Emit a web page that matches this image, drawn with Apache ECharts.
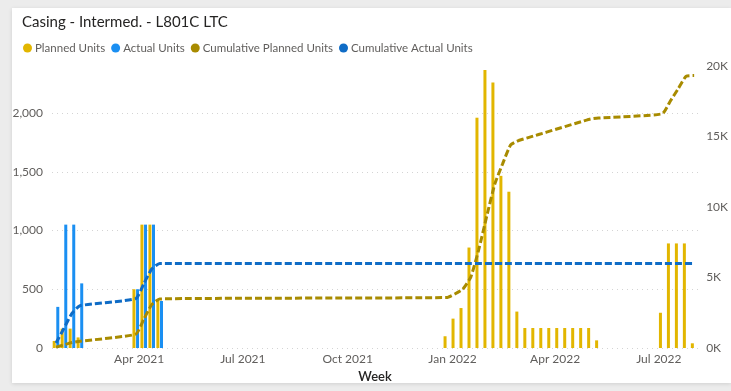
<!DOCTYPE html>
<html>
<head>
<meta charset="utf-8">
<script src="https://cdn.jsdelivr.net/npm/echarts@6/dist/echarts.min.js"></script>
<style>
  html, body { margin: 0; padding: 0; width: 731px; height: 391px; overflow: hidden; background: #ECECEC; }
  #card { position: absolute; left: 12px; top: 8px; width: 719px; height: 375px; background: #FFFFFF; box-shadow: 0 1px 4px rgba(0,0,0,0.12); }
  #chart { position: absolute; left: 0; top: 0; width: 731px; height: 391px; }
</style>
</head>
<body>
<div id="card"></div>
<div id="chart"></div>
<script>
const titleText = 'Casing - Intermed. - L801C LTC';
const weeks = ['2021-01-18','2021-01-25','2021-02-01','2021-02-08','2021-03-29','2021-04-05','2021-04-12','2021-04-19',
  '2021-12-27','2022-01-03','2022-01-10','2022-01-17','2022-01-24','2022-01-31','2022-02-07','2022-02-14','2022-02-21','2022-02-28',
  '2022-03-07','2022-03-14','2022-03-21','2022-03-28','2022-04-04','2022-04-11','2022-04-18','2022-04-25','2022-05-02','2022-05-09',
  '2022-07-04','2022-07-11','2022-07-18','2022-07-25','2022-08-01'];
const plannedUnits = [60,165,165,90, 500,1050,1050,400,
  100,250,340,855,1960,2365,2260,1465,1330,310,
  170,170,170,170,170,170,170,170,170,65,
  300,890,890,890,40];
const actualUnits = [350,1050,1050,550, 500,1050,1050,400,
  null,null,null,null,null,null,null,null,null,null,
  null,null,null,null,null,null,null,null,null,null,
  null,null,null,null,null];
const cumulativePlanned = [60,225,390,480, 980,2030,3080,3480,
  3580,3830,4170,5025,6985,9350,11610,13075,14405,14715,
  14885,15055,15225,15395,15565,15735,15905,16075,16245,16310,
  16610,17500,18390,19280,19320];
const cumulativeActual = [350,1400,2450,3000, 3500,4550,5600,6000,
  6000,6000,6000,6000,6000,6000,6000,6000,6000,6000,
  6000,6000,6000,6000,6000,6000,6000,6000,6000,6000,
  6000,6000,6000,6000,6000];
const xTickDates = ['2021-04-01','2021-07-01','2021-10-01','2022-01-01','2022-04-01','2022-07-01'];
const xTickLabels = ['Apr 2021','Jul 2021','Oct 2021','Jan 2022','Apr 2022','Jul 2022'];
const seriesNames = ['Planned Units','Actual Units','Cumulative Planned Units','Cumulative Actual Units'];

const FONT = 'Lato, "Open Sans", sans-serif';
const pd = s => Date.parse(s + 'T00:00:00Z');
const tickTs = xTickDates.map(pd);
const pair = arr => weeks.map((w, i) => [pd(w), arr[i]]);
const xMin = pd('2021-01-14') + 12 * 3600e3;
const xMax = pd('2022-08-04') + 12 * 3600e3;

const chart = echarts.init(document.getElementById('chart'), null, { renderer: 'canvas' });
chart.setOption({
  animation: false,
  textStyle: { fontFamily: FONT },
  title: {
    text: titleText, left: 17, top: 10,
    textStyle: { fontFamily: FONT, fontSize: 15, fontWeight: 'normal', color: '#252423' }
  },
  legend: {
    data: seriesNames, left: 18, top: 37, icon: 'circle', itemWidth: 9, itemHeight: 9, itemGap: 6,
    textStyle: { fontFamily: FONT, fontSize: 11.5, color: '#605E5C', padding: [0, 0, 0, -2] }
  },
  grid: { left: 52, right: 32, top: 66, bottom: 43, containLabel: false },
  xAxis: {
    type: 'value',
    min: xMin, max: xMax,
    name: 'Week', nameLocation: 'middle', nameGap: 14,
    nameTextStyle: { fontFamily: FONT, fontSize: 13, color: '#252423', fontWeight: 600 },
    axisLine: { show: false }, axisTick: { show: false }, splitLine: { show: false },
    axisLabel: {
      customValues: tickTs, margin: 5, color: '#605E5C', fontSize: 12, fontFamily: FONT,
      formatter: v => { const i = tickTs.indexOf(+v); return i >= 0 ? xTickLabels[i] : ''; }
    }
  },
  yAxis: [
    {
      type: 'value', min: 0, max: 2400, interval: 500, position: 'left',
      axisLine: { show: false }, axisTick: { show: false },
      axisLabel: { showMaxLabel: false, margin: 9, color: '#605E5C', fontSize: 12, fontFamily: FONT,
        formatter: v => v.toLocaleString('en-US') },
      splitLine: { showMaxLine: false, lineStyle: { color: '#D4D4D4', type: [1, 4], width: 1 } }
    },
    {
      type: 'value', min: 0, max: 20000, interval: 5000, position: 'right',
      axisLine: { show: false }, axisTick: { show: false }, splitLine: { show: false },
      axisLabel: { margin: 8, color: '#605E5C', fontSize: 12, fontFamily: FONT,
        formatter: v => (v / 1000) + 'K' }
    }
  ],
  series: [
    { name: seriesNames[0], type: 'bar', yAxisIndex: 0, barWidth: 3, barGap: '20%',
      itemStyle: { color: '#E2B600' }, data: pair(plannedUnits) },
    { name: seriesNames[1], type: 'bar', yAxisIndex: 0, barWidth: 3, barGap: '20%',
      itemStyle: { color: '#1A8FF2' }, data: pair(actualUnits) },
    { name: seriesNames[2], type: 'line', yAxisIndex: 1, symbol: 'none', smooth: 0.15, z: 5,
      itemStyle: { color: '#A88B00' },
      lineStyle: { color: '#A88B00', width: 3, type: [7, 3] }, data: pair(cumulativePlanned) },
    { name: seriesNames[3], type: 'line', yAxisIndex: 1, symbol: 'none', smooth: 0.15, z: 6,
      itemStyle: { color: '#0F6CC6' },
      lineStyle: { color: '#0F6CC6', width: 3, type: [7, 3] }, data: pair(cumulativeActual) }
  ]
});
</script>
</body>
</html>
